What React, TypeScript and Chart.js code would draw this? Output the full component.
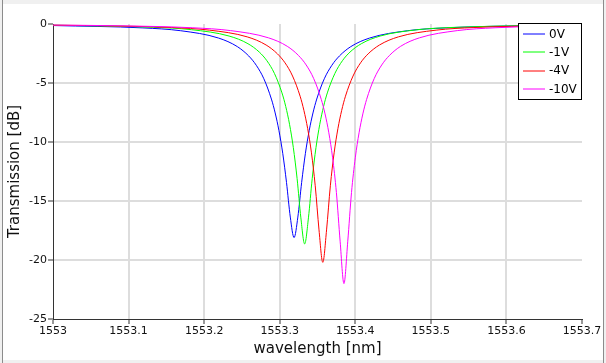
import { useEffect, useRef } from "react";
import { Chart, registerables } from "chart.js";

Chart.register(...registerables);

const seriesLabels = ["0V", "-1V", "-4V", "-10V"];
const seriesColors = ["#0000ff", "#00ff00", "#ff0000", "#ff00ff"];

const wl0V = [1553.0, 1553.119, 1553.169, 1553.219, 1553.244, 1553.259, 1553.269, 1553.279, 1553.289, 1553.294, 1553.299, 1553.304, 1553.309, 1553.314, 1553.319, 1553.324, 1553.329, 1553.334, 1553.339, 1553.344, 1553.349, 1553.359, 1553.369, 1553.379, 1553.394, 1553.419, 1553.469, 1553.519, 1553.619, 1553.7];
const db0V = [-0.13, -0.33, -0.57, -1.19, -1.92, -2.71, -3.5, -4.64, -6.36, -7.54, -9.04, -10.96, -13.44, -16.36, -18.1, -16.36, -13.44, -10.96, -9.04, -7.54, -6.36, -4.64, -3.5, -2.71, -1.92, -1.19, -0.57, -0.33, -0.15, -0.09];

const wl1V = [1553.0, 1553.133, 1553.183, 1553.233, 1553.258, 1553.273, 1553.283, 1553.293, 1553.303, 1553.308, 1553.313, 1553.318, 1553.323, 1553.328, 1553.333, 1553.338, 1553.343, 1553.348, 1553.353, 1553.358, 1553.363, 1553.373, 1553.383, 1553.393, 1553.408, 1553.433, 1553.483, 1553.533, 1553.633, 1553.7];
const db1V = [-0.1, -0.28, -0.48, -1.02, -1.67, -2.38, -3.11, -4.19, -5.84, -7.0, -8.5, -10.47, -13.1, -16.43, -18.64, -16.43, -13.1, -10.47, -8.5, -7.0, -5.84, -4.19, -3.11, -2.38, -1.67, -1.02, -0.48, -0.28, -0.13, -0.08];

const wl4V = [1553.0, 1553.057, 1553.157, 1553.207, 1553.257, 1553.282, 1553.297, 1553.307, 1553.317, 1553.327, 1553.332, 1553.337, 1553.342, 1553.347, 1553.352, 1553.357, 1553.362, 1553.367, 1553.372, 1553.377, 1553.382, 1553.387, 1553.397, 1553.407, 1553.417, 1553.432, 1553.457, 1553.507, 1553.557, 1553.657, 1553.7];
const db4V = [-0.1, -0.14, -0.3, -0.52, -1.09, -1.78, -2.53, -3.29, -4.41, -6.12, -7.32, -8.87, -10.92, -13.71, -17.45, -20.2, -17.45, -13.71, -10.92, -8.87, -7.32, -6.12, -4.41, -3.29, -2.53, -1.78, -1.09, -0.52, -0.3, -0.14, -0.1];

const wl10V = [1553.0, 1553.085, 1553.185, 1553.235, 1553.285, 1553.31, 1553.325, 1553.335, 1553.345, 1553.355, 1553.36, 1553.365, 1553.37, 1553.375, 1553.38, 1553.385, 1553.39, 1553.395, 1553.4, 1553.405, 1553.41, 1553.415, 1553.425, 1553.435, 1553.445, 1553.46, 1553.485, 1553.535, 1553.585, 1553.7];
const db10V = [-0.09, -0.15, -0.32, -0.56, -1.17, -1.89, -2.68, -3.47, -4.63, -6.39, -7.62, -9.22, -11.34, -14.28, -18.46, -22.0, -18.46, -14.28, -11.34, -9.22, -7.62, -6.39, -4.63, -3.47, -2.68, -1.89, -1.17, -0.56, -0.32, -0.13];

const xTicks = [1553, 1553.1, 1553.2, 1553.3, 1553.4, 1553.5, 1553.6, 1553.7];
const xTickLabels = ["1553", "1553.1", "1553.2", "1553.3", "1553.4", "1553.5", "1553.6", "1553.7"];
const yTicks = [-25, -20, -15, -10, -5, 0];
const yTickLabels = ["-25", "-20", "-15", "-10", "-5", "0"];

const wavelengths = [wl0V, wl1V, wl4V, wl10V];
const values = [db0V, db1V, db4V, db10V];

const FONT = "'DejaVu Sans', sans-serif";

const boxLegend = {
  id: "boxLegend",
  afterDraw(chart: any) {
    const { ctx, chartArea } = chart;
    const w = 64;
    const h = 77;
    const x0 = chartArea.right - w;
    const y0 = chartArea.top - 1;
    ctx.save();
    ctx.fillStyle = "#ffffff";
    ctx.fillRect(x0, y0, w, h);
    ctx.strokeStyle = "#000000";
    ctx.lineWidth = 1;
    ctx.strokeRect(x0 + 0.5, y0 + 0.5, w - 1, h - 1);
    chart.data.datasets.forEach((ds: any, i: number) => {
      const y = y0 + 11 + i * 18.4;
      ctx.strokeStyle = ds.borderColor;
      ctx.lineWidth = 1;
      ctx.beginPath();
      ctx.moveTo(x0 + 5, Math.round(y));
      ctx.lineTo(x0 + 27, Math.round(y));
      ctx.stroke();
      ctx.fillStyle = "#000000";
      ctx.font = "12px " + FONT;
      ctx.textBaseline = "middle";
      ctx.textAlign = "left";
      ctx.fillText(ds.label, x0 + 31, y + 0.5);
    });
    ctx.restore();
  },
};

export default function App() {
  const canvasRef = useRef<HTMLCanvasElement | null>(null);

  useEffect(() => {
    document.body.style.margin = "0";
    const canvas = canvasRef.current;
    if (!canvas) return;
    const chart = new Chart(canvas, {
      type: "line",
      data: {
        datasets: seriesLabels.map((label, i) => ({
          label,
          data: wavelengths[i].map((x, j) => ({ x, y: values[i][j] })),
          borderColor: seriesColors[i],
          backgroundColor: seriesColors[i],
          borderWidth: 1,
          pointRadius: 0,
          fill: false,
          cubicInterpolationMode: "monotone" as const,
          order: 3 - i,
        })),
      },
      options: {
        responsive: false,
        animation: false,
        events: [],
        layout: { padding: { top: 24, right: 24, left: 0, bottom: 0 } },
        plugins: {
          legend: { display: false },
          tooltip: { enabled: false },
        },
        scales: {
          x: {
            type: "linear",
            min: 1553,
            max: 1553.7,
            afterBuildTicks: (s: any) => {
              s.ticks = xTicks.map((v) => ({ value: v }));
            },
            afterFit: (s: any) => {
              s.height = 44;
            },
            ticks: {
              callback: (_v: any, i: number) => xTickLabels[i],
              font: { family: FONT, size: 11 },
              color: "#111111",
              padding: 1,
              maxRotation: 0,
              autoSkip: false,
            },
            grid: {
              color: (c: any) =>
                c.index === 0 || c.index === xTicks.length - 1 ? "rgba(0,0,0,0)" : "#dddddd",
              lineWidth: 2,
              tickColor: "#333333",
              tickWidth: 1,
              tickLength: 5,
            },
            border: { color: "#333333", width: 1 },
            title: {
              display: true,
              text: "wavelength [nm]",
              font: { family: FONT, size: 15 },
              color: "#111111",
              padding: { top: 0, bottom: 5 },
            },
          },
          y: {
            type: "linear",
            min: -25,
            max: 0,
            afterBuildTicks: (s: any) => {
              s.ticks = yTicks.map((v) => ({ value: v }));
            },
            afterFit: (s: any) => {
              s.width = 53;
            },
            ticks: {
              callback: (_v: any, i: number) => yTickLabels[i],
              font: { family: FONT, size: 11 },
              color: "#111111",
              padding: 1,
            },
            grid: {
              color: (c: any) =>
                c.index === 0 || c.index === yTicks.length - 1 ? "rgba(0,0,0,0)" : "#dddddd",
              lineWidth: 2,
              tickColor: "#333333",
              tickWidth: 1,
              tickLength: 5,
            },
            border: { color: "#333333", width: 1 },
            title: {
              display: true,
              text: "Transmission [dB]",
              font: { family: FONT, size: 15 },
              color: "#111111",
              padding: { top: 6, bottom: 0 },
            },
          },
        },
      },
      plugins: [boxLegend],
    });
    return () => chart.destroy();
  }, []);

  return (
    <div style={{ position: "relative", width: 606, height: 363, overflow: "hidden", background: "#f0f0f0" }}>
      <div style={{ position: "absolute", left: 3, top: 4, width: 600, height: 356, background: "#ffffff" }} />
      <canvas ref={canvasRef} width={606} height={363} style={{ position: "absolute", left: 0, top: 0 }} />
      <div style={{ position: "absolute", left: 2, top: 0, width: 1, height: 363, background: "#8c8c8c" }} />
      <div style={{ position: "absolute", left: 603, top: 0, width: 1, height: 363, background: "#8c8c8c" }} />
    </div>
  );
}
